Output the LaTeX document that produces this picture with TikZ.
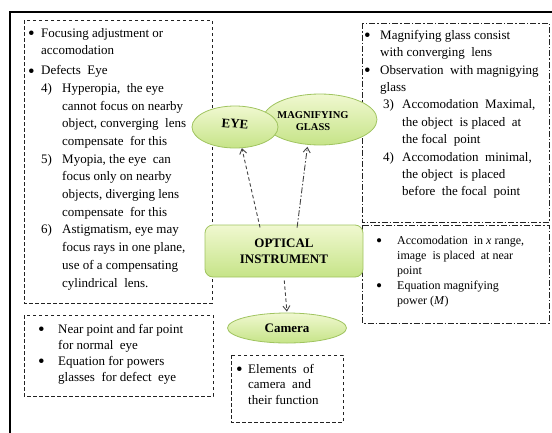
\documentclass[tikz,border=0pt]{standalone}
\usepackage{fontspec}
\setmainfont{Liberation Serif}
\usetikzlibrary{arrows.meta,shapes.geometric}
\newcommand{\mybul}[1]{\makebox[#1][l]{\raisebox{-2.4pt}{\scalebox{1.45}{\textbullet}}}}
\newcommand{\myind}[1]{\hspace*{#1}}
\newcommand{\mynum}[2]{\makebox[#1][l]{#2}}
\definecolor{gfillT}{RGB}{240,248,208}
\definecolor{gfillB}{RGB}{198,228,136}
\definecolor{gline}{RGB}{160,196,96}
\definecolor{boxline}{RGB}{34,34,34}
\tikzset{
  x=1pt, y=-1pt,
  dbox/.style={draw=boxline, line width=0.9pt, dash pattern=on 3.5pt off 2.5pt},
  ddbox/.style={draw=boxline, line width=0.9pt, dash pattern=on 6pt off 2pt on 1.5pt off 2pt},
  txt/.style={inner sep=0pt, align=left, anchor=north west},
  gshape/.style={draw=gline, line width=0.8pt, top color=gfillT, bottom color=gfillB, inner sep=0pt},
  gell/.style={gshape, ellipse},
  arr/.style={draw=boxline!85, line width=0.9pt, -{Straight Barb[length=5pt,width=7pt]}},
}
\begin{document}
\begin{tikzpicture}
\useasboundingbox (0,0) rectangle (552,432);
% outer frame
\draw[line width=1.8pt, black] (10,440) -- (10,12) -- (560,12);

% left top box
\draw[dbox] (24,20) rectangle (212,303);
\node[txt, font=\fontsize{13}{17.7}\selectfont] (t1) at (28,28) {%
\mybul{13pt}Focusing adjustment or\\
\myind{13pt}accomodation\\[2pt]
\mybul{13pt}Defects\ \ Eye\\
\myind{13pt}\mynum{21pt}{4)}Hyperopia,\ \ the eye\\
\myind{34pt}cannot\ focus\ on nearby\\
\myind{34pt}object, converging\ \ lens\\
\myind{34pt}compensate\ \ for this\\
\myind{13pt}\mynum{21pt}{5)}Myopia,\ the eye\ \ can\\
\myind{34pt}focus\ only on nearby\\
\myind{34pt}objects, diverging\ lens\\
\myind{34pt}compensate\ \ for this\\
\myind{13pt}\mynum{21pt}{6)}Astigmatism, eye may\\
\myind{34pt}focus rays in one plane,\\
\myind{34pt}use of a compensating\\
\myind{34pt}cylindrical\ \ lens.};

% right top box
\draw[ddbox] (362,23) rectangle (549,222);
\node[txt, font=\fontsize{13}{17.4}\selectfont] (t2) at (364,30) {%
\mybul{16pt}Magnifying glass consist\\
\myind{16pt}with converging\ \ lens\\
\mybul{16pt}Observation\ \ with magnigying\\
\myind{16pt}glass\\
\myind{19pt}\mynum{19pt}{3)}Accomodation\ \ Maximal,\\
\myind{38pt}the object\ \ is placed\ \ at\\
\myind{38pt}the focal\ \ point\\
\myind{19pt}\mynum{19pt}{4)}Accomodation\ \ minimal,\\
\myind{38pt}the object\ \ is placed\\
\myind{38pt}before\ \ the focal\ \ point};

% right lower box
\draw[ddbox] (362,225) rectangle (549,323);
\node[txt, font=\fontsize{12}{15}\selectfont] (t3) at (376,236) {%
\mybul{21pt}Accomodation\ \ in \textit{x} range,\\
\myind{21pt}image\ \ is placed\ \ at near\\
\myind{21pt}point\\
\mybul{21pt}Equation\ magnifying\\
\myind{21pt}power (\textit{M})};

% bottom left box
\draw[dbox] (24,315) rectangle (213,396);
\node[txt, font=\fontsize{13}{16}\selectfont] (t4) at (38,324) {%
\mybul{20pt}Near point and far point\\
\myind{20pt}for normal\ \ eye\\
\mybul{20pt}Equation for powers\\
\myind{20pt}glasses\ \ for defect\ \ eye};

% camera box
\draw[dbox] (231,355) rectangle (343,422);
\node[txt, font=\fontsize{13}{15.5}\selectfont] (t5) at (236,364) {%
\mybul{12pt}Elements\ \ of\\
\myind{12pt}camera\ \ and\\
\myind{12pt}their function};

% shapes
\node[gell, minimum width=114pt, minimum height=51pt] (mag) at (320,119.5) {};
\node[font=\bfseries\fontsize{10.5}{12.5}\selectfont, align=center, inner sep=0pt] (magt) at (313,121) {MAGNIFYING\\GLASS};
\node[gell, minimum width=86pt, minimum height=42pt] (eye) at (235,127) {};
\node[font=\bfseries\fontsize{13}{15}\selectfont, rotate=-4, inner sep=0pt] (eyet) at (235,124) {EYE};

\node[gshape, rounded corners=8pt, minimum width=158pt, minimum height=52pt,
      font=\bfseries\fontsize{13}{16}\selectfont, align=center] (opt) at (284,251) {OPTICAL\\INSTRUMENT};

\node[gell, minimum width=119pt, minimum height=30pt, font=\bfseries\fontsize{13}{15}\selectfont] (cam) at (287,328) {Camera};

% arrows
\draw[arr, dash pattern=on 3.5pt off 2.5pt, shorten <=-3pt] (opt.133) -- (eye.-72);
\draw[arr, dash pattern=on 6pt off 2pt on 1.5pt off 2pt, shorten <=-3pt, shorten >=2pt] (opt.63) -- (mag.-116);
\draw[arr, dash pattern=on 3.5pt off 2.5pt, shorten <=3pt, shorten >=1pt] (opt.south) -- (cam.north);
\end{tikzpicture}
\end{document}
